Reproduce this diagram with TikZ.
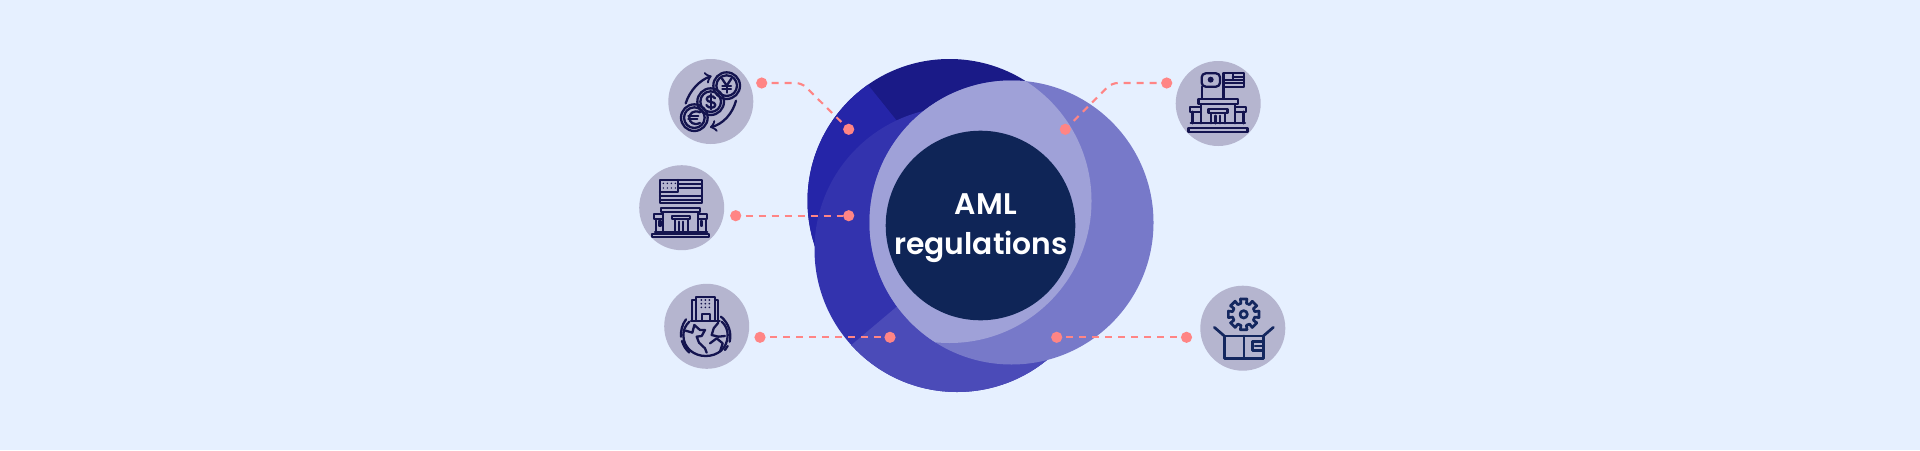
\documentclass[tikz,border=0pt]{standalone}
\usepackage{fontspec}
\setmainfont{Poppins}
\newfontfamily\amlfont{Poppins SemiBold}
\definecolor{pagebg}{HTML}{E6F0FF}
\definecolor{topdark}{HTML}{1A1A87}
\definecolor{topblue}{HTML}{2525A8}
\definecolor{midblue}{HTML}{3333AE}
\definecolor{lowblue}{HTML}{4B4BB8}
\definecolor{rightblue}{HTML}{7779C9}
\definecolor{overlapblue}{HTML}{9FA1D8}
\definecolor{coreblue}{HTML}{0F2557}
\definecolor{iconbg}{HTML}{B5B5CF}
\definecolor{iconink}{HTML}{14144F}
\definecolor{boxink}{HTML}{14275F}
\definecolor{dotpink}{HTML}{FF8585}
\tikzset{
  iconcircle/.style={circle,fill=iconbg,minimum size=42.5pt,inner sep=0pt},
  pinkdot/.style={circle,fill=dotpink,minimum size=5.6pt,inner sep=0pt},
  dashline/.style={draw=dotpink,line width=1.05pt,dash pattern=on 3.5pt off 3pt,rounded corners=3pt,shorten <=2pt},
  ink/.style={draw=iconink,line width=1.15pt,line join=round,line cap=round},
  boxline/.style={draw=boxink,line width=1.35pt,line join=round,line cap=round},
}
\begin{document}
\begin{tikzpicture}[x=0.5pt,y=-0.5pt]
\useasboundingbox (0,0) rectangle (1920,450);
\fill[pagebg] (0,0) rectangle (1920,450);
%top circle
\fill[topdark] (949.5,201) circle [radius=142];
\begin{scope}
\clip (949.5,201) circle [radius=142];
\fill[topblue] (840,50) -- (950,187) -- (950,420) -- (780,420) -- (780,50) -- cycle;
\end{scope}
%bottom circle
\fill[midblue] (957,249.5) circle [radius=142.5];
\begin{scope}
\clip (957,249.5) circle [radius=142.5];
\fill[lowblue] (830,363) -- (1010,211) -- (1200,211) -- (1200,420) -- (830,420) -- cycle;
\end{scope}
%right circle and its overlap with the top one
\fill[rightblue] (1011.5,222.5) circle [radius=142];
\begin{scope}
\clip (949.5,201) circle [radius=142];
\fill[overlapblue] (1011.5,222.5) circle [radius=142];
\end{scope}
\node[circle,fill=coreblue,minimum size=94.8pt,inner sep=0pt] (core) at (980.5,225.5) {};
\node[text=white,align=center,font=\amlfont\fontsize{14.9}{20}\selectfont] (title) at (981,228.5) {\hspace*{4.8pt}AML\\regulations};
%icon backgrounds
\node[iconcircle] (coins) at (710.8,101.5) {};
\node[iconcircle] (usbank) at (681.7,207.7) {};
\node[iconcircle] (globe) at (706.7,326.3) {};
\node[iconcircle] (embassy) at (1218.2,103.5) {};
\node[iconcircle] (parcel) at (1242.8,328.2) {};
%connectors
\node[pinkdot] (a1) at (761.7,83) {};
\node[pinkdot] (a2) at (848.7,129.3) {};
\node[pinkdot] (b1) at (735.7,215.7) {};
\node[pinkdot] (b2) at (848.7,215.7) {};
\node[pinkdot] (c1) at (760,337.3) {};
\node[pinkdot] (c2) at (890,337.3) {};
\node[pinkdot] (d1) at (1166.7,83) {};
\node[pinkdot] (d2) at (1065.3,129.3) {};
\node[pinkdot] (e1) at (1186.5,337.3) {};
\node[pinkdot] (e2) at (1056.7,337.3) {};
\coordinate (aelbow) at (801.7,83);
\coordinate (delbow) at (1111.7,83);
\draw[dashline] (a1) -- (aelbow) -- (a2);
\draw[dashline] (b1) -- (b2);
\draw[dashline] (c1) -- (c2);
\draw[dashline] (d1) -- (delbow) -- (d2);
\draw[dashline] (e1) -- (e2);
%coins icon
\begin{scope}[shift={(660,50)},scale=1/3]
\foreach \cx/\cy in {200/107,152/155,103/203}
{
\draw[ink] (\cx,\cy) circle [radius=40];
\draw[ink] (\cx,\cy) circle [radius=31];
}
\draw[ink,->] (77,160) .. controls (90,120) and (120,90) .. (155,78);
\draw[ink,->] (228,152) .. controls (218,190) and (190,222) .. (150,232);
%yen
\draw[ink] (186,86) -- (200,107) -- (214,86);
\draw[ink] (200,107) -- (200,128);
\draw[ink] (187,108) -- (213,108);
\draw[ink] (187,117) -- (213,117);
%dollar
\draw[ink] (165,145) .. controls (160,135) and (140,137) .. (140,147) .. controls (140,160) and (166,152) .. (166,165) .. controls (166,176) and (144,176) .. (139,165);
\draw[ink] (152,132) -- (152,178);
%euro
\draw[ink] (120,187) .. controls (100,178) and (88,192) .. (88,203) .. controls (88,216) and (100,228) .. (120,219);
\draw[ink] (85,198) -- (115,198);
\draw[ink] (85,208) -- (112,208);
\end{scope}
%flag and bank icon
\begin{scope}[shift={(630,160)},scale=1/3]
\draw[ink] (90,60) rectangle (215,130);
\draw[ink] (90,95) -- (145,95) -- (145,60);
\foreach \y in {72,84} \draw[ink] (145,\y) -- (215,\y);
\foreach \y in {107,119} \draw[ink] (90,\y) -- (215,\y);
\foreach \x in {100,112,124,136}
{
\foreach \y in {70,84} \fill[iconink] (\x,\y) circle [radius=2.5];
}
\draw[ink] (93,143) rectangle (210,157);
\draw[ink] (100,157) -- (100,215);
\draw[ink] (203,157) -- (203,215);
\draw[ink] (127,168) rectangle (180,178);
\draw[ink] (135,178) -- (135,215);
\draw[ink] (173,178) -- (173,215);
\draw[ink] (148,185) -- (148,215);
\draw[ink] (160,185) -- (160,215);
\draw[ink] (72,162) rectangle (100,177);
\draw[ink] (78,177) -- (78,215);
\draw[ink] (88,184) rectangle (92,198);
\draw[ink] (203,162) rectangle (232,177);
\draw[ink] (227,177) -- (227,215);
\draw[ink] (212,184) rectangle (216,198);
\draw[ink] (75,215) -- (232,215);
\draw[ink] (67,222) rectangle (238,232);
\end{scope}
%building on globe icon
\begin{scope}[shift={(655,280)},scale=1/3]
\draw[ink] (122,50) rectangle (180,122);
\draw[ink] (122,60) -- (112,60) -- (112,122) -- (122,122);
\draw[ink] (180,60) -- (190,60) -- (190,122) -- (180,122);
\draw[ink] (108,122) -- (194,122);
\foreach \x in {139,151,163}
{
\foreach \y in {60,71,82} \fill[iconink] (\x,\y) circle [radius=2.8];
}
\draw[ink] (140,122) -- (140,102) -- (165,102) -- (165,122);
\draw[ink] (103,125) .. controls (92,135) and (85,150) .. (85,165) .. controls (85,205) and (118,228) .. (152,228) .. controls (188,228) and (218,205) .. (218,165) .. controls (218,150) and (212,135) .. (200,125);
\draw[ink] (93,118) .. controls (80,135) and (77,155) .. (78,170);
\draw[ink] (81,183) .. controls (85,197) and (92,208) .. (103,218);
\draw[ink] (198,110) .. controls (222,130) and (230,160) .. (224,185);
\draw[ink] (218,198) -- (210,210);
\draw[ink] (92,152) -- (112,158) -- (118,135) -- (135,150) -- (150,150) -- (140,168) -- (125,170) -- (132,188) -- (150,205) -- (155,218);
\draw[ink] (190,128) -- (176,145) -- (170,165) -- (190,170) -- (210,168);
\draw[ink] (165,190) -- (185,175) -- (203,190) -- (195,215);
\end{scope}
%two flags and bank icon
\begin{scope}[shift={(1170,55)},scale=1/3]
\draw[ink,rounded corners=2pt] (95,55) rectangle (150,95);
\fill[iconink] (122,74) circle [radius=9];
\draw[ink] (95,95) -- (95,130);
\draw[ink] (160,55) rectangle (222,95);
\draw[ink] (160,75) -- (188,75) -- (188,55);
\foreach \y in {65,75,85} \draw[ink] (188,\y) -- (222,\y);
\draw[ink] (160,85) -- (188,85);
\draw[ink] (160,95) -- (160,130);
\draw[ink] (85,132) rectangle (203,148);
\draw[ink] (92,148) -- (92,205);
\draw[ink] (195,148) -- (195,205);
\draw[ink] (115,162) rectangle (172,174);
\draw[ink] (122,174) -- (122,205);
\draw[ink] (165,174) -- (165,205);
\draw[ink] (136,182) -- (136,205);
\draw[ink] (150,182) -- (150,205);
\draw[ink] (60,155) rectangle (92,170);
\draw[ink] (67,170) -- (67,205);
\draw[ink] (195,155) rectangle (227,170);
\draw[ink] (220,170) -- (220,205);
\draw[ink] (62,205) -- (225,205);
\draw[ink] (55,218) rectangle (232,232);
\end{scope}
%gear in open box icon
\begin{scope}[shift={(1195,280)},scale=1/3]
\begin{scope}[shift={(146,103)}]
\draw[boxline] (0,0) circle [radius=11];
\foreach \a in {0,45,...,315}
{
\draw[boxline] (\a-12:47) -- (\a+12:47) -- (\a+14:34) -- (\a+31:34) -- (\a+33:47);
}
\end{scope}
\draw[boxline] (88,168) rectangle (205,235);
\draw[boxline] (147,168) -- (147,235);
\draw[boxline] (88,168) -- (58,142);
\draw[boxline] (205,168) -- (235,142);
\draw[boxline] (205,184) -- (172,184) -- (172,212) -- (205,212);
\draw[boxline] (180,198) -- (205,198);
\end{scope}
\end{tikzpicture}
\end{document}
